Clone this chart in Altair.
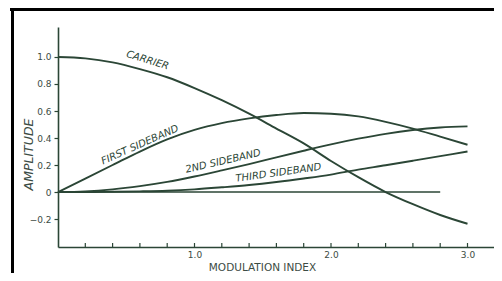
import altair as alt
import pandas as pd

# ---- data ----
index = [0.0, 0.2, 0.4, 0.6, 0.8, 1.0, 1.2, 1.4, 1.6, 1.8, 2.0, 2.2, 2.4, 2.6, 2.8, 3.0]
carrier = [1.00, 0.99, 0.96, 0.91, 0.85, 0.77, 0.68, 0.58, 0.47, 0.36, 0.23, 0.11, 0.00, -0.09, -0.17, -0.235]
first_sb = [0.00, 0.10, 0.20, 0.30, 0.39, 0.46, 0.51, 0.545, 0.57, 0.585, 0.58, 0.56, 0.52, 0.47, 0.41, 0.35]
second_sb = [0.00, 0.005, 0.02, 0.044, 0.075, 0.115, 0.16, 0.207, 0.257, 0.306, 0.353, 0.395, 0.431, 0.459, 0.478, 0.486]
third_sb = [0.00, 0.00, 0.002, 0.005, 0.01, 0.02, 0.035, 0.052, 0.074, 0.10, 0.129, 0.166, 0.198, 0.232, 0.266, 0.30]
series_names = ["Carrier", "First", "Second", "Third"]

zero_line_x = [0.0, 2.8]
x_tick_values = [0.2, 0.4, 0.6, 0.8, 1.0, 1.2, 1.4, 1.6, 1.8, 2.0, 2.2, 2.4, 2.6, 2.8, 3.0]
x_label_values = [1.0, 2.0, 3.0]
y_tick_values = [1.0, 0.8, 0.6, 0.4, 0.2, 0.0, -0.2]

label_text = ["CARRIER", "FIRST SIDEBAND", "2ND SIDEBAND", "THIRD SIDEBAND"]
label_x = [0.656, 0.60, 1.21, 1.615]
label_y = [0.975, 0.35, 0.228, 0.142]
label_angle = [17, 336, 347, 352]

# ---- tables ----
rows = []
for name, vals in zip(series_names, [carrier, first_sb, second_sb, third_sb]):
    for xv, yv in zip(index, vals):
        rows.append({"series": name, "m": xv, "amp": yv})
curves = pd.DataFrame(rows)
zero_df = pd.DataFrame({"m": zero_line_x, "amp": [0.0, 0.0]})
ticks_df = pd.DataFrame({"m": x_tick_values})
labels_df = pd.DataFrame({"text": label_text, "m": label_x, "amp": label_y, "angle": label_angle})

W, H = 436, 220
INK = "#2b4636"
TXT = "#3c4c44"

x_scale = alt.Scale(domain=[0, W / 136.5], nice=False, zero=False)
y_scale = alt.Scale(domain=[-0.407, 1.222], nice=False, zero=False)

x_axis = alt.Axis(
    values=x_label_values, format=".1f", ticks=False, grid=False, labelOverlap=False,
    domainColor=INK, domainWidth=1.6, labelColor=TXT, labelFontSize=9,
    labelFont="DejaVu Sans", labelPadding=3, title="MODULATION   INDEX",
    titleFont="DejaVu Sans", titleFontSize=10.5, titleFontWeight="normal",
    titleColor=TXT, titleX=204, titleY=20, titleBaseline="middle", titleAlign="center",
)
y_axis = alt.Axis(
    values=y_tick_values, ticks=True, tickSize=4, tickColor=INK, tickWidth=1.2,
    labelExpr="datum.value == 0 ? '0' : format(datum.value, '.1f')", labelOverlap=False,
    grid=False, domainColor=INK, domainWidth=1.6, labelColor=TXT, labelFontSize=9,
    labelFont="DejaVu Sans", labelPadding=3, title="AMPLITUDE",
    titleFont="DejaVu Sans", titleFontSize=12.5, titleFontStyle="italic",
    titleFontWeight="normal", titleColor=TXT, titleAngle=270, titleX=-30,
    titleY=127, titleBaseline="middle", titleAlign="center",
)

X = alt.X("m:Q", scale=x_scale, axis=x_axis)
Y = alt.Y("amp:Q", scale=y_scale, axis=y_axis)

base_lines = alt.Chart(curves).mark_line(
    color=INK, strokeWidth=1.9, interpolate="monotone"
).encode(x=X, y=Y, detail="series:N")

zero_line = alt.Chart(zero_df).mark_line(color=INK, strokeWidth=1.6).encode(x=X, y=Y)

x_ticks = alt.Chart(ticks_df).mark_rule(color=INK, strokeWidth=1.2).encode(
    x=X, y=alt.value(H), y2=alt.value(H - 4)
)

curve_labels = alt.Chart(labels_df).mark_text(
    font="DejaVu Sans", fontSize=10, fontStyle="italic", color=INK,
    align="center", baseline="middle",
).encode(
    x=X, y=Y, text="text:N", angle=alt.Angle("angle:Q", scale=None),
)

frame_top = alt.Chart(ticks_df).mark_rule(color="black", strokeWidth=3).encode(
    x=alt.value(-48), x2=alt.value(440), y=alt.value(-17.5)
)
frame_left = alt.Chart(ticks_df).mark_rule(color="black", strokeWidth=3).encode(
    x=alt.value(-45.5), y=alt.value(-19), y2=alt.value(250)
)

chart = alt.layer(
    base_lines, zero_line, x_ticks, curve_labels, frame_top, frame_left
).properties(
    width=W, height=H,
    background="white",
    autosize=alt.AutoSizeParams(type="none"),
    padding={"left": 50, "top": 19, "right": 0, "bottom": 26},
).configure_view(stroke=None)

chart.save("out.html", embed_options={"renderer": "svg", "actions": False})
